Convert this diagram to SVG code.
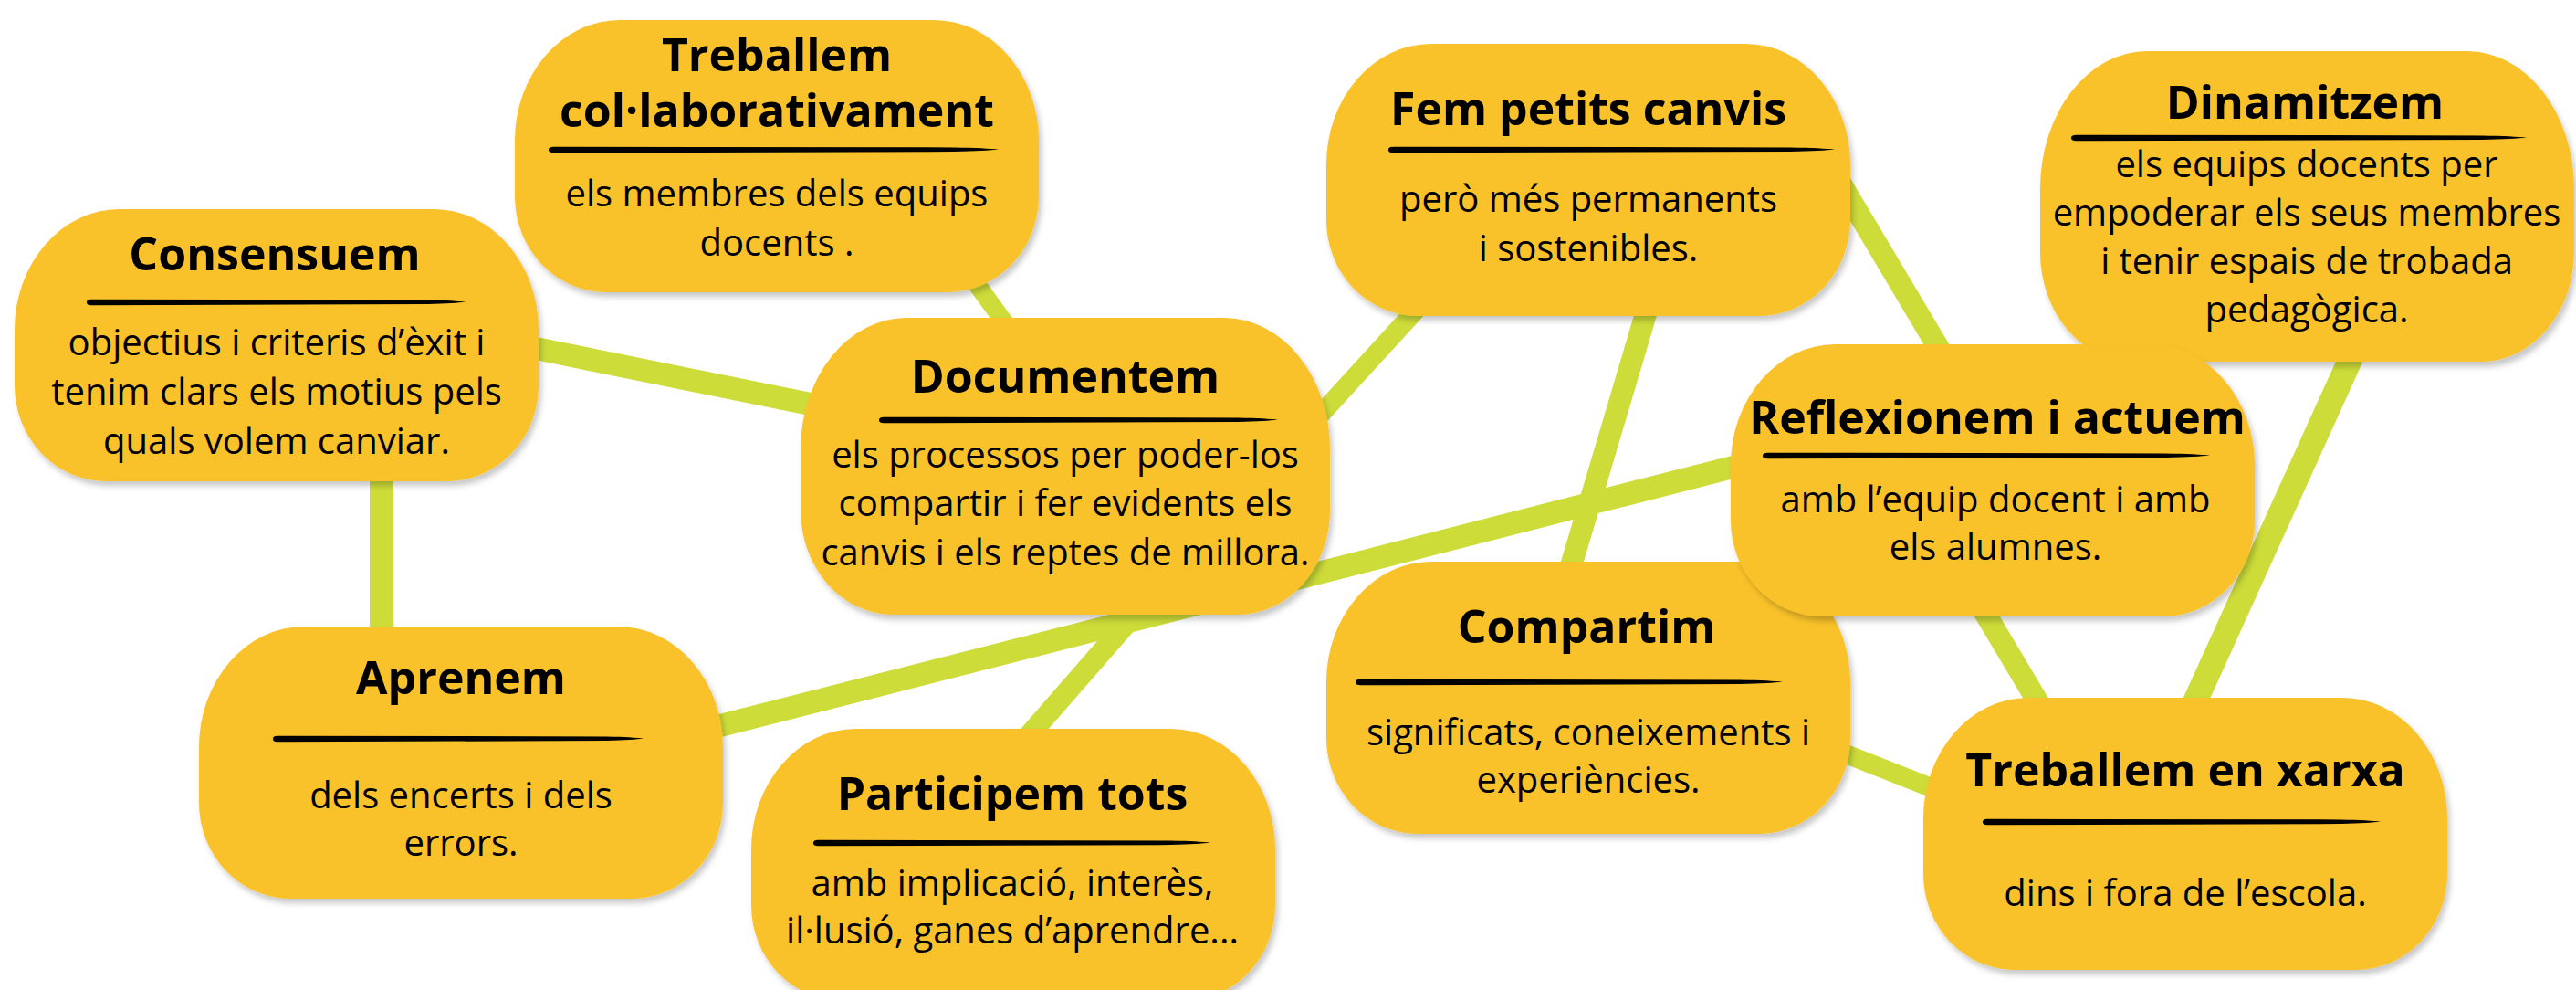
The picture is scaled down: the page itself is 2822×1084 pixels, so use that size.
<svg xmlns="http://www.w3.org/2000/svg" xmlns:xlink="http://www.w3.org/1999/xlink" width="2822" height="1084" viewBox="0 0 2822 1084">
<style>
.node{fill:#F9C22C;filter:url(#sh)}
.ln{stroke:#CDDC39;stroke-linecap:butt;fill:none}
.t{font-family:"Open Sans","Noto Sans",sans-serif;font-weight:700;font-size:50px;fill:#000;text-anchor:middle}
.b{font-family:"Open Sans","Noto Sans",sans-serif;font-weight:400;font-size:40px;fill:#000;text-anchor:middle}
.br{fill:#000}
</style>
<defs>
<filter id="sh" x="-10%" y="-10%" width="125%" height="130%">
<feDropShadow dx="3" dy="5" stdDeviation="3" flood-color="#000" flood-opacity="0.22"/>
</filter>
<path id="pill" d="M115,0 H459 A115,132 0 0 1 574,132 V193 A100,105 0 0 1 474,298 H100 A100,105 0 0 1 0,193 V132 A115,132 0 0 1 115,0 Z"/>
<path id="brush" d="M0,0 C0,-3 5,-3.3 20,-3.3 L900,-2.6 C950,-2.2 980,-1.4 1000,-0.5 C980,0.7 950,1.5 900,2.1 L20,3.3 C5,3.3 0,3 0,0 Z"/>
</defs>
<rect width="2822" height="1084" fill="#fff"/>
<g id="connectors">
<line class="ln" x1="560" y1="376" x2="910" y2="447" stroke-width="25"/>
<line class="ln" x1="1046" y1="278" x2="1130" y2="394" stroke-width="20"/>
<line class="ln" x1="418" y1="500" x2="418" y2="710" stroke-width="26"/>
<line class="ln" x1="1420" y1="483" x2="1580" y2="308" stroke-width="21"/>
<line class="ln" x1="1110" y1="825" x2="1280" y2="630" stroke-width="23"/>
<line class="ln" x1="760" y1="802" x2="1920" y2="506" stroke-width="25"/>
<line class="ln" x1="1810" y1="320" x2="1715" y2="640" stroke-width="24"/>
<line class="ln" x1="2010" y1="190" x2="2135" y2="400" stroke-width="24"/>
<line class="ln" x1="2150" y1="630" x2="2250" y2="798" stroke-width="24"/>
<line class="ln" x1="2590" y1="360" x2="2393" y2="794" stroke-width="27"/>
<line class="ln" x1="1990" y1="813" x2="2140" y2="872" stroke-width="21"/>
</g>
<g id="n-collab">
<use href="#pill" class="node" x="564" y="22"/>
<text class="t" x="851" y="78">Treballem</text>
<text class="t" x="851" y="139">col·laborativament</text>
<use href="#brush" class="br" transform="translate(601,164) scale(0.493,1)"/>
<text class="b" x="851" y="226">els membres dels equips</text>
<text class="b" x="851" y="280">docents .</text>
</g>
<g id="n-consensuem">
<use href="#pill" class="node" x="16" y="229"/>
<text class="t" x="301" y="296">Consensuem</text>
<use href="#brush" class="br" transform="translate(95,331) scale(0.415,1)"/>
<text class="b" x="303" y="389">objectius i criteris d’èxit i</text>
<text class="b" x="303" y="443">tenim clars els motius pels</text>
<text class="b" x="303" y="497">quals volem canviar.</text>
</g>
<g id="n-documentem">
<use href="#pill" class="node" transform="translate(877,348) scale(1.0105,1.0906)"/>
<text class="t" x="1167" y="430">Documentem</text>
<use href="#brush" class="br" transform="translate(963,460) scale(0.437,1)"/>
<text class="b" x="1167" y="512">els processos per poder-los</text>
<text class="b" x="1167" y="565">compartir i fer evidents els</text>
<text class="b" x="1167" y="619">canvis i els reptes de millora.</text>
</g>
<g id="n-fem">
<use href="#pill" class="node" x="1453" y="48"/>
<text class="t" x="1740" y="137">Fem petits canvis</text>
<use href="#brush" class="br" transform="translate(1521,164) scale(0.489,1)"/>
<text class="b" x="1740" y="232">però més permanents</text>
<text class="b" x="1740" y="286">i sostenibles.</text>
</g>
<g id="n-dinamitzem">
<use href="#pill" class="node" transform="translate(2235,56) scale(1.019,1.141)"/>
<text class="t" x="2525" y="130">Dinamitzem</text>
<use href="#brush" class="br" transform="translate(2269,151) scale(0.499,1)"/>
<text class="b" x="2527" y="194">els equips docents per</text>
<text class="b" x="2527" y="247">empoderar els seus membres</text>
<text class="b" x="2527" y="300">i tenir espais de trobada</text>
<text class="b" x="2527" y="353">pedagògica.</text>
</g>
<g id="n-compartim">
<use href="#pill" class="node" x="1453" y="615"/>
<text class="t" x="1738" y="704">Compartim</text>
<use href="#brush" class="br" transform="translate(1485,747) scale(0.468,1)"/>
<text class="b" x="1740" y="816">significats, coneixements i</text>
<text class="b" x="1740" y="868">experiències.</text>
</g>
<g id="n-reflexionem">
<use href="#pill" class="node" x="1896" y="377"/>
<text class="t" x="2188" y="475">Reflexionem i actuem</text>
<use href="#brush" class="br" transform="translate(1931,499) scale(0.49,1)"/>
<text class="b" x="2186" y="561">amb l’equip docent i amb</text>
<text class="b" x="2186" y="613">els alumnes.</text>
</g>
<g id="n-xarxa">
<use href="#pill" class="node" x="2107" y="764"/>
<text class="t" x="2394" y="861">Treballem en xarxa</text>
<use href="#brush" class="br" transform="translate(2172,900) scale(0.436,1)"/>
<text class="b" x="2394" y="992">dins i fora de l’escola.</text>
</g>
<g id="n-aprenem">
<use href="#pill" class="node" x="218" y="686"/>
<text class="t" x="505" y="760">Aprenem</text>
<use href="#brush" class="br" transform="translate(299,809) scale(0.406,1)"/>
<text class="b" x="505" y="885">dels encerts i dels</text>
<text class="b" x="505" y="937">errors.</text>
</g>
<g id="n-participem">
<use href="#pill" class="node" x="823" y="798"/>
<text class="t" x="1109" y="887">Participem tots</text>
<use href="#brush" class="br" transform="translate(891,923) scale(0.435,1)"/>
<text class="b" x="1109" y="981">amb implicació, interès,</text>
<text class="b" x="1109" y="1033">il·lusió, ganes d’aprendre...</text>
</g>
</svg>
